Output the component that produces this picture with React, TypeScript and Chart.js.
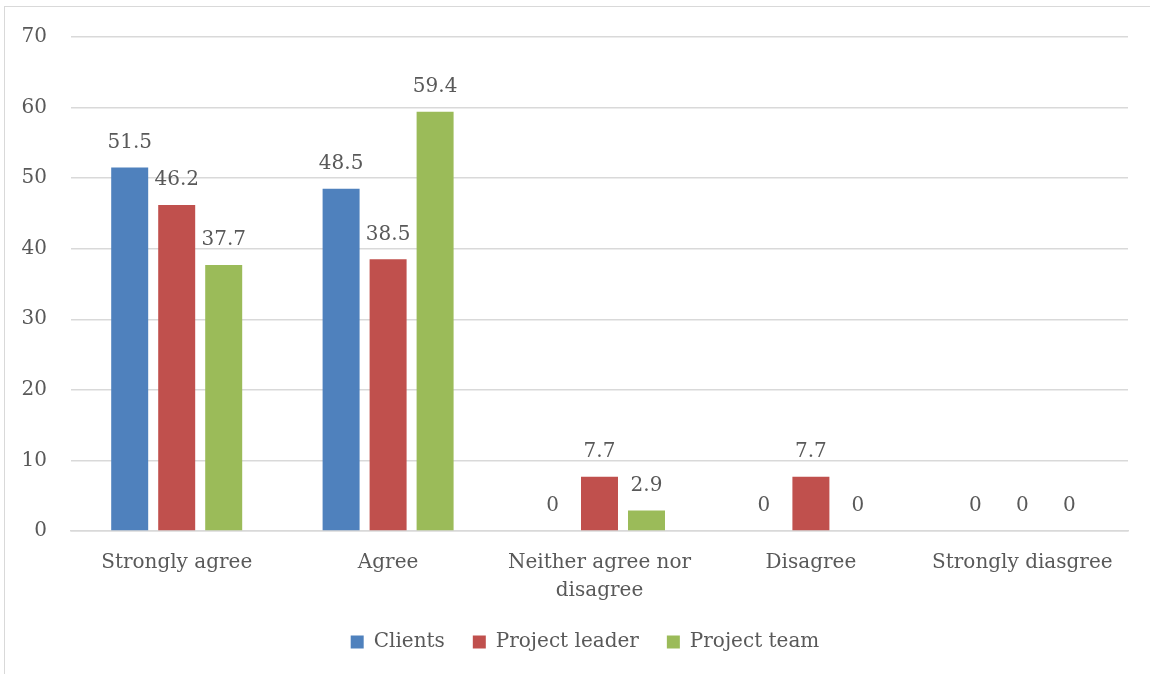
import React, { useEffect, useRef } from "react";
import { Chart, registerables } from "chart.js";

Chart.register(...registerables);

const categories: string[][] = [
  ["Strongly agree"],
  ["Agree"],
  ["Neither agree nor", "disagree"],
  ["Disagree"],
  ["Strongly diasgree"],
];
const clients = [51.5, 48.5, 0, 0, 0];
const projectLeader = [46.2, 38.5, 7.7, 7.7, 0];
const projectTeam = [37.7, 59.4, 2.9, 0, 0];
const seriesNames = ["Clients", "Project leader", "Project team"];
const seriesColors = ["#4F81BD", "#C0504D", "#9BBB59"];

const FONT = "'DejaVu Serif', serif";
const FS = 20;
const TEXT = "#595959";
const GRID = "#D9D9D9";
const W = 1160;
const H = 662;

// Writes each bar's value above it (zeros sit just above the baseline)
const valueLabels = {
  id: "valueLabels",
  afterDatasetsDraw(chart: any) {
    const ctx = chart.ctx;
    ctx.save();
    ctx.font = `${FS}px ${FONT}`;
    ctx.fillStyle = TEXT;
    ctx.textAlign = "center";
    ctx.textBaseline = "middle";
    chart.data.datasets.forEach((ds: any, i: number) => {
      const meta = chart.getDatasetMeta(i);
      meta.data.forEach((bar: any, j: number) => {
        ctx.fillText(String(ds.data[j]), bar.x, bar.y - 25);
      });
    });
    ctx.restore();
  },
};

// Centre the legend row a little to the right of the canvas middle
const legendShift = {
  id: "legendShift",
  afterLayout(chart: any) {
    if (chart.legend) chart.legend.left += 42;
  },
};

export default function App() {
  const ref = useRef<HTMLCanvasElement>(null);

  useEffect(() => {
    if (!ref.current) return;
    const chart = new Chart(ref.current, {
      type: "bar",
      data: {
        labels: categories,
        datasets: [clients, projectLeader, projectTeam].map((d, i) => ({
          label: seriesNames[i],
          data: d,
          backgroundColor: seriesColors[i],
          borderWidth: 0,
          categoryPercentage: 0.667,
          barPercentage: 0.787,
        })),
      },
      options: {
        responsive: false,
        animation: false,
        layout: { padding: { top: 37, left: 0, right: W - 1128, bottom: 0 } },
        scales: {
          y: {
            min: 0,
            max: 70,
            ticks: { stepSize: 10, color: TEXT, font: { family: FONT, size: FS }, padding: 24 },
            grid: { color: GRID, lineWidth: 1.5, drawTicks: false },
            border: { display: false },
            afterFit: (s: any) => {
              s.width = 71;
            },
          },
          x: {
            ticks: {
              color: TEXT,
              font: { family: FONT, size: FS, lineHeight: 1.4 },
              padding: 18,
              maxRotation: 0,
              autoSkip: false,
            },
            grid: { display: false, drawTicks: false },
            border: { color: GRID, width: 1.5 },
            afterFit: (s: any) => {
              s.height = 73;
            },
          },
        },
        plugins: {
          legend: {
            position: "bottom",
            labels: {
              boxWidth: 13,
              boxHeight: 13,
              padding: 28,
              color: TEXT,
              font: { family: FONT, size: FS },
            },
          },
          tooltip: { enabled: false },
        },
      },
      plugins: [valueLabels, legendShift],
    });
    return () => chart.destroy();
  }, []);

  return (
    <div style={{ position: "fixed", left: 0, top: 0, width: 1150, height: 674, background: "#fff", overflow: "hidden" }}>
      <div
        style={{
          position: "absolute",
          left: 4,
          top: 6,
          width: 1300,
          height: 800,
          border: `1.5px solid ${GRID}`,
        }}
      />
      <canvas ref={ref} width={W} height={H} style={{ position: "absolute", left: 0, top: 0 }} />
    </div>
  );
}
